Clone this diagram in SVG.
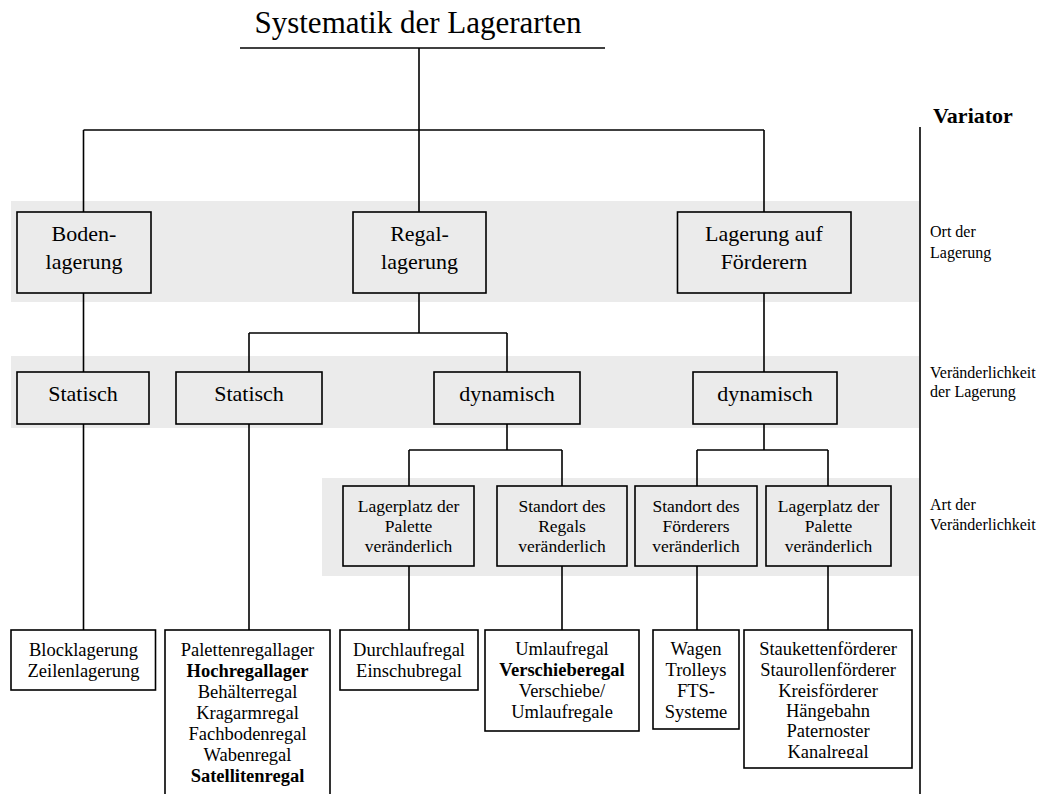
<svg xmlns="http://www.w3.org/2000/svg" width="1051" height="794" viewBox="0 0 1051 794">
<style>
.band{fill:#ebebeb;stroke:none}
.gbox{fill:#ebebeb;stroke:#000;stroke-width:1.6}
.wbox{fill:#fff;stroke:#000;stroke-width:1.6}
.ln{stroke:#000;stroke-width:1.6;fill:none}
text{font-family:"Liberation Serif","Times New Roman",serif;fill:#000}
.t1{font-size:22px;text-anchor:middle}
.t3{font-size:17.5px;text-anchor:middle}
.t4{font-size:18.5px;text-anchor:middle}
.lab{font-size:16px}
.b{font-weight:bold}
</style>
<defs>
<clipPath id="clipStau"><rect x="744" y="630" width="168" height="128"/></clipPath>
</defs>
<rect width="1051" height="794" fill="#fff"/>
<g id="bands">
<rect class="band" x="11" y="201" width="908" height="101"/>
<rect class="band" x="11" y="356" width="908" height="72"/>
<rect class="band" x="322" y="478" width="597" height="98"/>
</g>
<g id="title">
<text x="418" y="33" style="font-size:31px;text-anchor:middle">Systematik der Lagerarten</text>
<line class="ln" x1="240" y1="48" x2="605" y2="48"/>
</g>
<g id="variator">
<text x="933" y="123" class="b" style="font-size:22px">Variator</text>
<line class="ln" x1="920" y1="127" x2="920" y2="794"/>
<text class="lab" x="930" y="237">Ort der</text>
<text class="lab" x="930" y="258">Lagerung</text>
<text class="lab" x="930" y="378">Veränderlichkeit</text>
<text class="lab" x="930" y="397">der Lagerung</text>
<text class="lab" x="930" y="510">Art der</text>
<text class="lab" x="930" y="530">Veränderlichkeit</text>
</g>
<g id="connectors">
<line class="ln" x1="419" y1="48" x2="419" y2="130"/>
<line class="ln" x1="83.5" y1="130" x2="764" y2="130"/>
<line class="ln" x1="83.5" y1="130" x2="83.5" y2="212"/>
<line class="ln" x1="419" y1="130" x2="419" y2="212"/>
<line class="ln" x1="764" y1="130" x2="764" y2="212"/>
<line class="ln" x1="83.5" y1="293" x2="83.5" y2="372"/>
<line class="ln" x1="419" y1="293" x2="419" y2="333"/>
<line class="ln" x1="249" y1="333" x2="507" y2="333"/>
<line class="ln" x1="249" y1="333" x2="249" y2="372"/>
<line class="ln" x1="507" y1="333" x2="507" y2="372"/>
<line class="ln" x1="764" y1="293" x2="764" y2="372"/>
<line class="ln" x1="83.5" y1="424" x2="83.5" y2="630"/>
<line class="ln" x1="249" y1="424" x2="249" y2="630"/>
<line class="ln" x1="507" y1="424" x2="507" y2="450"/>
<line class="ln" x1="409" y1="450" x2="562" y2="450"/>
<line class="ln" x1="409" y1="450" x2="409" y2="486"/>
<line class="ln" x1="562" y1="450" x2="562" y2="486"/>
<line class="ln" x1="764" y1="424" x2="764" y2="450"/>
<line class="ln" x1="697" y1="450" x2="828" y2="450"/>
<line class="ln" x1="697" y1="450" x2="697" y2="486"/>
<line class="ln" x1="828" y1="450" x2="828" y2="486"/>
<line class="ln" x1="409" y1="566" x2="409" y2="630"/>
<line class="ln" x1="562" y1="566" x2="562" y2="630"/>
<line class="ln" x1="697" y1="566" x2="697" y2="630"/>
<line class="ln" x1="828" y1="566" x2="828" y2="630"/>
</g>
<g id="n-boden"><rect class="gbox" x="17" y="212" width="134" height="81"/><text class="t1" x="84" y="241">Boden-</text><text class="t1" x="84" y="269">lagerung</text></g>
<g id="n-regal"><rect class="gbox" x="353" y="212" width="133" height="81"/><text class="t1" x="419.5" y="241">Regal-</text><text class="t1" x="419.5" y="269">lagerung</text></g>
<g id="n-foerderern"><rect class="gbox" x="677.5" y="212" width="173.5" height="81"/><text class="t1" x="764" y="241">Lagerung auf</text><text class="t1" x="764" y="269">Förderern</text></g>
<g id="n-statisch1"><rect class="gbox" x="17" y="372" width="132" height="52"/><text class="t1" x="83" y="401">Statisch</text></g>
<g id="n-statisch2"><rect class="gbox" x="176" y="372" width="146" height="52"/><text class="t1" x="249" y="401">Statisch</text></g>
<g id="n-dynamisch1"><rect class="gbox" x="434" y="372" width="146" height="52"/><text class="t1" x="507" y="401">dynamisch</text></g>
<g id="n-dynamisch2"><rect class="gbox" x="693" y="372" width="144" height="52"/><text class="t1" x="765" y="401">dynamisch</text></g>
<g id="n-lagerplatz1"><rect class="gbox" x="343" y="486" width="131" height="80"/><text class="t3" x="408.5" y="512">Lagerplatz der</text><text class="t3" x="408.5" y="532">Palette</text><text class="t3" x="408.5" y="552">veränderlich</text></g>
<g id="n-standort-regal"><rect class="gbox" x="497" y="486" width="130" height="80"/><text class="t3" x="562" y="512">Standort des</text><text class="t3" x="562" y="532">Regals</text><text class="t3" x="562" y="552">veränderlich</text></g>
<g id="n-standort-foerderer"><rect class="gbox" x="635" y="486" width="122" height="80"/><text class="t3" x="696" y="512">Standort des</text><text class="t3" x="696" y="532">Förderers</text><text class="t3" x="696" y="552">veränderlich</text></g>
<g id="n-lagerplatz2"><rect class="gbox" x="766" y="486" width="125" height="80"/><text class="t3" x="828.5" y="512">Lagerplatz der</text><text class="t3" x="828.5" y="532">Palette</text><text class="t3" x="828.5" y="552">veränderlich</text></g>
<g id="n-block"><rect class="wbox" x="11" y="630" width="144.5" height="60"/><text class="t4" x="83.5" y="656">Blocklagerung</text><text class="t4" x="83.5" y="677">Zeilenlagerung</text></g>
<g id="n-paletten"><rect class="wbox" x="165" y="630" width="165" height="180"/>
<text class="t4" x="247.5" y="656">Palettenregallager</text>
<text class="t4 b" x="247.5" y="677">Hochregallager</text>
<text class="t4" x="247.5" y="698">Behälterregal</text>
<text class="t4" x="247.5" y="719">Kragarmregal</text>
<text class="t4" x="247.5" y="740">Fachbodenregal</text>
<text class="t4" x="247.5" y="761">Wabenregal</text>
<text class="t4 b" x="247.5" y="782">Satellitenregal</text></g>
<g id="n-durchlauf"><rect class="wbox" x="340" y="630" width="138" height="60"/><text class="t4" x="409" y="656">Durchlaufregal</text><text class="t4" x="409" y="677">Einschubregal</text></g>
<g id="n-umlauf"><rect class="wbox" x="485" y="630" width="154" height="101"/>
<text class="t4" x="562" y="655">Umlaufregal</text>
<text class="t4 b" x="562" y="676">Verschieberegal</text>
<text class="t4" x="562" y="697">Verschiebe/</text>
<text class="t4" x="562" y="718">Umlaufregale</text></g>
<g id="n-wagen"><rect class="wbox" x="653" y="630" width="86" height="99"/>
<text class="t4" x="696" y="655">Wagen</text>
<text class="t4" x="696" y="676">Trolleys</text>
<text class="t4" x="696" y="697">FTS-</text>
<text class="t4" x="696" y="718">Systeme</text></g>
<g id="n-stauketten"><rect class="wbox" x="744" y="630" width="168" height="138"/>
<g clip-path="url(#clipStau)">
<text class="t4" x="828" y="655">Staukettenförderer</text>
<text class="t4" x="828" y="676">Staurollenförderer</text>
<text class="t4" x="828" y="697">Kreisförderer</text>
<text class="t4" x="828" y="717">Hängebahn</text>
<text class="t4" x="828" y="737">Paternoster</text>
<text class="t4" x="828" y="758">Kanalregal</text>
</g></g>
</svg>
